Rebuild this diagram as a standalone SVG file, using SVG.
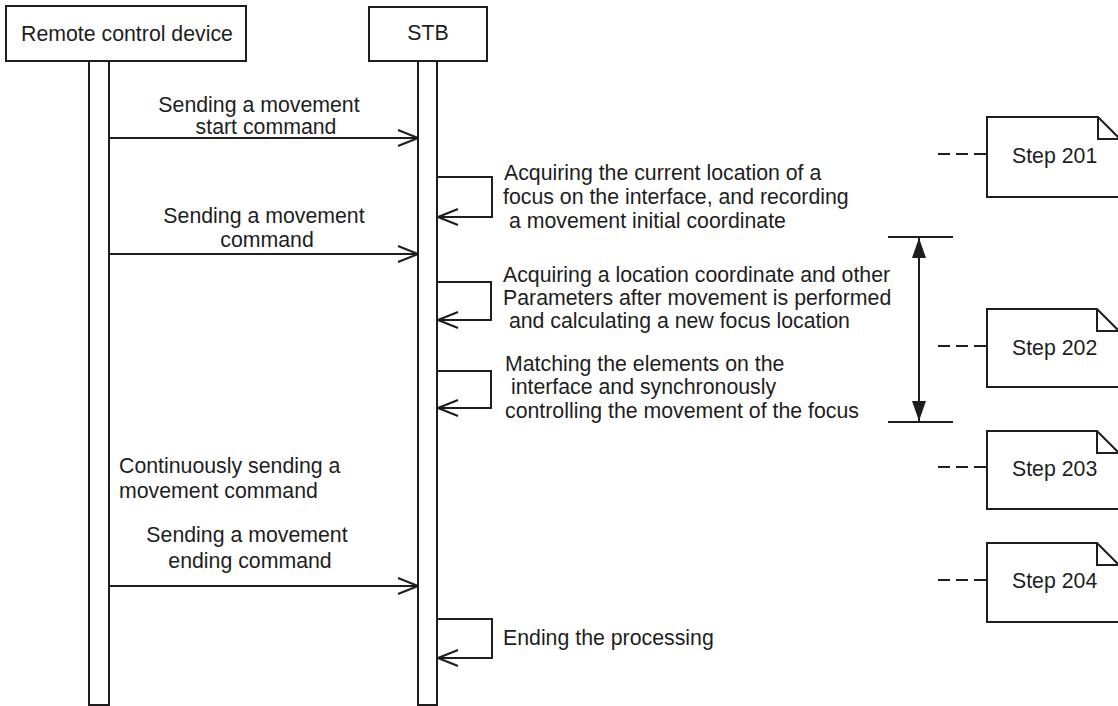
<svg xmlns="http://www.w3.org/2000/svg" width="1118" height="706" viewBox="0 0 1118 706">
  <style>
    .box { fill: #fff; stroke: #1e1e1e; stroke-width: 2; }
    .bar { fill: #fff; stroke: #1e1e1e; stroke-width: 2; }
    .ln { fill: none; stroke: #1e1e1e; stroke-width: 2; }
    .dash { fill: none; stroke: #1e1e1e; stroke-width: 2; stroke-dasharray: 12 6; }
    text { font-family: "Liberation Sans", Arial, sans-serif; font-size: 21.3px; fill: #1e1e1e; }
    .mid { text-anchor: middle; }
  </style>
  <defs>
    <marker id="open" viewBox="0 0 22 18" refX="21" refY="9" markerWidth="22" markerHeight="18" markerUnits="userSpaceOnUse" orient="auto">
      <path d="M1,1 L21,9 L1,17" fill="none" stroke="#1e1e1e" stroke-width="2"/>
    </marker>
    <marker id="tri" viewBox="0 0 20 14" refX="20" refY="7" markerWidth="20" markerHeight="14" markerUnits="userSpaceOnUse" orient="auto">
      <path d="M0,0 L20,7 L0,14 Z" fill="#1e1e1e"/>
    </marker>
  </defs>

  <!-- lifeline: remote control device -->
  <g id="remote">
    <rect class="box" x="6" y="6" width="240" height="55"/>
    <text class="mid" x="127" y="41">Remote control device</text>
    <rect class="bar" x="89" y="61" width="20" height="644"/>
  </g>

  <!-- lifeline: STB -->
  <g id="stb">
    <rect class="box" x="369" y="7" width="118" height="54"/>
    <text class="mid" x="428" y="40">STB</text>
    <rect class="bar" x="418" y="61" width="19" height="644"/>
  </g>

  <!-- messages and self calls -->
  <g id="connectors">
    <line class="ln" x1="109" y1="138" x2="418" y2="138" marker-end="url(#open)"/>
    <line class="ln" x1="109" y1="254" x2="418" y2="254" marker-end="url(#open)"/>
    <line class="ln" x1="109" y1="586" x2="418" y2="586" marker-end="url(#open)"/>

    <path class="ln" d="M437,177 H492 V217 H438" marker-end="url(#open)"/>
    <path class="ln" d="M437,282 H491 V320 H438" marker-end="url(#open)"/>
    <path class="ln" d="M437,371 H491 V408 H438" marker-end="url(#open)"/>
    <path class="ln" d="M437,619 H492 V658 H438" marker-end="url(#open)"/>

    <!-- span of step 202 -->
    <line class="ln" x1="888" y1="237" x2="953" y2="237"/>
    <line class="ln" x1="888" y1="422" x2="953" y2="422"/>
    <line class="ln" x1="919" y1="330" x2="919" y2="238" marker-end="url(#tri)"/>
    <line class="ln" x1="919" y1="330" x2="919" y2="421" marker-end="url(#tri)"/>

    <!-- note leaders -->
    <line class="dash" x1="938" y1="154" x2="987" y2="154"/>
    <line class="dash" x1="938" y1="346" x2="987" y2="346"/>
    <line class="dash" x1="938" y1="467" x2="987" y2="467"/>
    <line class="dash" x1="938" y1="580" x2="987" y2="580"/>
  </g>

  <!-- message labels -->
  <g id="msg-start">
    <text class="mid" x="259" y="112">Sending a movement</text>
    <text class="mid" x="266" y="134">start command</text>
  </g>
  <g id="msg-move">
    <text class="mid" x="264" y="223">Sending a movement</text>
    <text class="mid" x="267" y="247">command</text>
  </g>
  <g id="msg-continuous">
    <text x="119" y="473">Continuously sending a</text>
    <text x="119" y="498">movement command</text>
  </g>
  <g id="msg-end">
    <text class="mid" x="247" y="542">Sending a movement</text>
    <text class="mid" x="250" y="568">ending command</text>
  </g>

  <!-- self call labels -->
  <g id="self-acquire">
    <text x="504" y="180">Acquiring the current location of a</text>
    <text x="503" y="204">focus on the interface, and recording</text>
    <text x="503" y="228" xml:space="preserve"> a movement initial coordinate</text>
  </g>
  <g id="self-calculate">
    <text x="503" y="282">Acquiring a location coordinate and other</text>
    <text x="503" y="305">Parameters after movement is performed</text>
    <text x="503" y="328" xml:space="preserve"> and calculating a new focus location</text>
  </g>
  <g id="self-match">
    <text x="505" y="371">Matching the elements on the</text>
    <text x="505" y="394" xml:space="preserve"> interface and synchronously</text>
    <text x="505" y="418">controlling the movement of the focus</text>
  </g>
  <g id="self-end">
    <text x="503" y="645">Ending the processing</text>
  </g>

  <!-- step notes -->
  <g id="step201">
    <path class="box" d="M987,117 H1098 L1120,139 V197 H987 Z"/>
    <path class="ln" d="M1098,117 V139 H1120"/>
    <text x="1012" y="163">Step 201</text>
  </g>
  <g id="step202">
    <path class="box" d="M987,309 H1097 L1119,331 V387 H987 Z"/>
    <path class="ln" d="M1097,309 V331 H1119"/>
    <text x="1012" y="355">Step 202</text>
  </g>
  <g id="step203">
    <path class="box" d="M987,431 H1097 L1119,453 V509 H987 Z"/>
    <path class="ln" d="M1097,431 V453 H1119"/>
    <text x="1012" y="476">Step 203</text>
  </g>
  <g id="step204">
    <path class="box" d="M987,543 H1097 L1119,565 V622 H987 Z"/>
    <path class="ln" d="M1097,543 V565 H1119"/>
    <text x="1012" y="588">Step 204</text>
  </g>
</svg>
